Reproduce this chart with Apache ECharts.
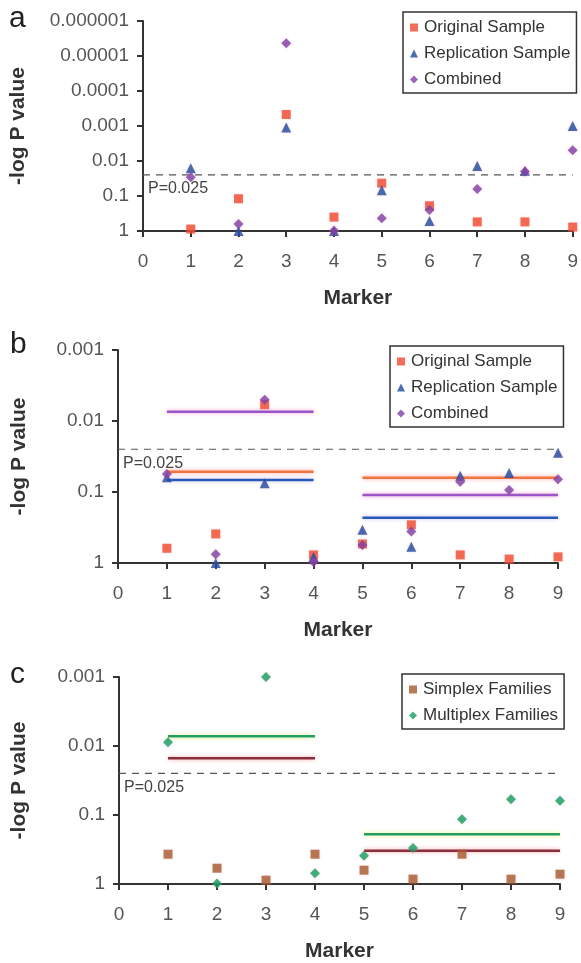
<!DOCTYPE html>
<html>
<head>
<meta charset="utf-8">
<script src="https://cdn.jsdelivr.net/npm/echarts@6/dist/echarts.min.js"></script>
<style>
html,body{margin:0;padding:0;background:#fff;}
#chart{width:581px;height:963px;}
</style>
</head>
<body>
<div id="chart"></div>
<script>
var markers = [1, 2, 3, 4, 5, 6, 7, 8, 9];
var yTickLabels = ['1', '0.1', '0.01', '0.001', '0.0001', '0.00001', '0.000001'];
var threshold = 0.025;

// panel a
var origA = [0.88, 0.12, 0.00047, 0.4, 0.043, 0.19, 0.55, 0.55, 0.77];
var replA = [0.016, 1, 0.0011, 1, 0.068, 0.52, 0.014, 0.019, 0.001];
var combA = [0.029, 0.63, 0.0000043, 0.98, 0.43, 0.25, 0.063, 0.02, 0.0049];

// panel b
var origB = [0.62, 0.39, 0.0059, 0.77, 0.54, 0.29, 0.77, 0.88, 0.82];
var replB = [0.062, 1, 0.075, 0.82, 0.34, 0.59, 0.059, 0.054, 0.028];
var combB = [0.056, 0.75, 0.005, 0.97, 0.56, 0.36, 0.072, 0.094, 0.066];
var spans = [[1, 4], [5, 9]];
var origMeanB = [0.052, 0.063];
var replMeanB = [0.068, 0.23];
var combMeanB = [0.0074, 0.11];

// panel c
var simplexC = [0.37, 0.59, 0.88, 0.37, 0.63, 0.85, 0.37, 0.85, 0.72];
var multiplexC = [0.0088, 0.98, 0.001, 0.7, 0.39, 0.3, 0.115, 0.059, 0.062];
var simplexMeanC = [0.015, 0.33];
var multiplexMeanC = [0.0072, 0.19];

var FONT = 'Liberation Sans';
var chart = echarts.init(document.getElementById('chart'));

function pairs(vals){
    return markers.map(function(m, i){ return [m, vals[i]]; });
}

function xAx(idx){
    return {
        gridIndex: idx, type: 'value', min: 0, max: 9, interval: 1,
        name: 'Marker', nameLocation: 'middle', nameGap: 57,
        nameTextStyle: {fontFamily: FONT, fontWeight: 'bold', fontSize: 21, color: '#333'},
        axisLine: {lineStyle: {color: '#333', width: 2}},
        axisTick: {show: true, length: 6, lineStyle: {color: '#333', width: 2}},
        axisLabel: {fontFamily: FONT, fontSize: 19, color: '#555', margin: 21},
        splitLine: {show: false}
    };
}

function yAx(idx, min, gap){
    return {
        gridIndex: idx, type: 'log', logBase: 10, min: min, max: 1, inverse: true,
        name: '-log P value', nameLocation: 'middle', nameRotate: 90, nameGap: gap,
        nameTextStyle: {fontFamily: FONT, fontWeight: 'bold', fontSize: 21, color: '#333'},
        axisLine: {show: true, lineStyle: {color: '#333', width: 2}},
        axisTick: {show: true, length: 6, lineStyle: {color: '#333', width: 2}},
        axisLabel: {
            fontFamily: FONT, fontSize: 19, color: '#555', margin: 14,
            formatter: function(v){ return yTickLabels[Math.round(-Math.log10(v))]; }
        },
        splitLine: {show: false}
    };
}

function dots(name, vals, idx, symbol, color, size){
    return {
        name: name, type: 'scatter', xAxisIndex: idx, yAxisIndex: idx,
        symbol: symbol, symbolSize: size, z: 5,
        itemStyle: {color: color, shadowColor: 'rgba(240,120,140,0.35)', shadowBlur: 3},
        data: pairs(vals)
    };
}

function threshLine(idx){
    return {
        name: 'thr' + idx, type: 'line', xAxisIndex: idx, yAxisIndex: idx,
        data: [[0, threshold], [9, threshold]], symbol: 'none', silent: true, z: 2,
        lineStyle: {color: '#555', width: 1.2, type: [7, 6]},
        markPoint: {
            symbol: 'circle', symbolSize: 0,
            data: [{coord: [0, threshold]}],
            label: {
                show: true, position: 'right', offset: [0, 14],
                formatter: 'P=0.025', fontFamily: FONT, fontSize: 16, color: '#444'
            }
        }
    };
}

function segs(key, means, idx, color, halo){
    return spans.map(function(s, i){
        return {
            name: key + i, type: 'line', xAxisIndex: idx, yAxisIndex: idx,
            data: [[s[0], means[i]], [s[1], means[i]]], symbol: 'none', silent: true, z: 3,
            lineStyle: {color: color, width: 2.5, shadowColor: halo, shadowBlur: 4}
        };
    });
}

function legendBox(left, top, names){
    return {
        left: left, top: top, orient: 'vertical', data: names,
        itemWidth: 8, itemHeight: 8, itemGap: 9,
        padding: [7, 6, 5, 7],
        borderColor: '#333', borderWidth: 1.5,
        textStyle: {fontFamily: FONT, fontSize: 17, color: '#333', padding: [0, 0, 0, 1]}
    };
}

var series = [];
series.push(threshLine(0), threshLine(1), threshLine(2));
series = series.concat(
    segs('bo', origMeanB, 1, '#f3743e', '#f9a3a0'),
    segs('bp', combMeanB, 1, '#9a55c8', '#f0a0d0'),
    segs('bb', replMeanB, 1, '#2a58b8', '#c0c8f0'),
    segs('cg', multiplexMeanC, 2, '#22a064', '#f0f080'),
    segs('cr', simplexMeanC, 2, '#8a2e3c', '#f4a0a0')
);
series.push(
    dots('Original Sample', origA, 0, 'rect', '#f04a2e', 9),
    dots('Replication Sample', replA, 0, 'triangle', '#1d4aa0', 10),
    dots('Combined', combA, 0, 'diamond', '#7e3fa6', 10),
    dots('Original Sample', origB, 1, 'rect', '#f04a2e', 9),
    dots('Replication Sample', replB, 1, 'triangle', '#1d4aa0', 10),
    dots('Combined', combB, 1, 'diamond', '#7e3fa6', 10),
    dots('Simplex Families', simplexC, 2, 'rect', '#a65a2e', 9),
    dots('Multiplex Families', multiplexC, 2, 'diamond', '#13a060', 10)
);

var option = {
    animation: false,
    backgroundColor: '#fff',
    grid: [
        {left: 143, right: 8, top: 21, height: 210},
        {left: 118, right: 23, top: 350, height: 213},
        {left: 119, right: 21, top: 677, height: 211}
    ],
    xAxis: [xAx(0), xAx(1), xAx(2)],
    yAxis: [yAx(0, 0.000001, 114), yAx(1, 0.001, 88), yAx(2, 0.001, 89)],
    legend: [
        legendBox(403, 12, ['Original Sample', 'Replication Sample', 'Combined']),
        legendBox(390, 346, ['Original Sample', 'Replication Sample', 'Combined']),
        legendBox(402, 674, ['Simplex Families', 'Multiplex Families'])
    ],
    graphic: [
        {type: 'text', left: 9, top: 4, style: {text: 'a', font: '30px ' + FONT, fill: '#222'}},
        {type: 'text', left: 10, top: 330, style: {text: 'b', font: '30px ' + FONT, fill: '#222'}},
        {type: 'text', left: 10, top: 660, style: {text: 'c', font: '30px ' + FONT, fill: '#222'}}
    ],
    series: series
};
chart.setOption(option);
</script>
</body>
</html>
